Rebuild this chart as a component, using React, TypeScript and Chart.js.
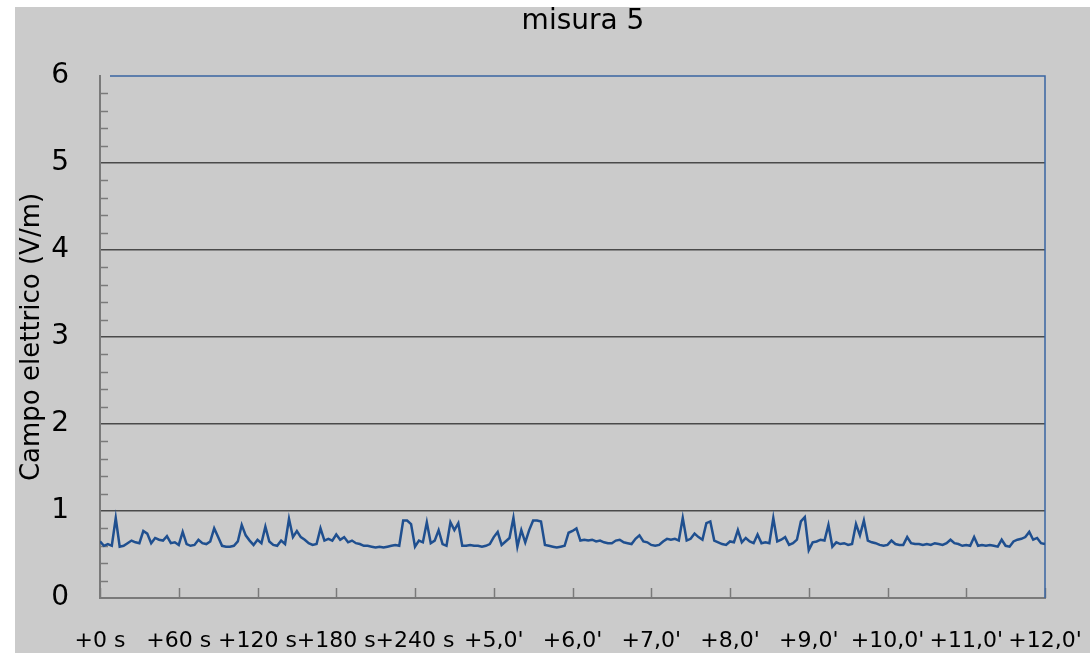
import React, { useEffect, useRef } from "react";
import { Chart, registerables } from "chart.js";

Chart.register(...registerables);

const chartTitle = "misura 5";
const yAxisTitle = "Campo elettrico (V/m)";
const xTickLabels = [
  "+0 s", "+60 s", "+120 s", "+180 s", "+240 s", "+5,0'", "+6,0'",
  "+7,0'", "+8,0'", "+9,0'", "+10,0'", "+11,0'", "+12,0'",
];
const secondsPerSample = 3;
const secondsPerLabel = 60;
const yMin = 0;
const yMax = 6;

// electric field samples (V/m), one every 3 s
const fieldValues = [
  0.65, 0.60, 0.62, 0.60, 0.92, 0.59, 0.60, 0.63, 0.66, 0.64,
  0.63, 0.77, 0.74, 0.63, 0.69, 0.67, 0.66, 0.71, 0.63, 0.64,
  0.61, 0.76, 0.62, 0.60, 0.61, 0.67, 0.63, 0.62, 0.65, 0.80,
  0.70, 0.60, 0.59, 0.59, 0.60, 0.65, 0.84, 0.72, 0.66, 0.61,
  0.67, 0.63, 0.82, 0.65, 0.61, 0.60, 0.66, 0.62, 0.91, 0.70,
  0.77, 0.70, 0.67, 0.63, 0.61, 0.62, 0.80, 0.66, 0.68, 0.66,
  0.73, 0.67, 0.70, 0.64, 0.66, 0.63, 0.62, 0.60, 0.60, 0.59,
  0.58, 0.59, 0.58, 0.59, 0.60, 0.61, 0.60, 0.89, 0.89, 0.85,
  0.59, 0.66, 0.64, 0.87, 0.63, 0.66, 0.78, 0.62, 0.60, 0.87,
  0.78, 0.86, 0.60, 0.60, 0.61, 0.60, 0.60, 0.59, 0.60, 0.62,
  0.70, 0.76, 0.61, 0.65, 0.69, 0.92, 0.59, 0.78, 0.64, 0.78,
  0.89, 0.89, 0.88, 0.61, 0.60, 0.59, 0.58, 0.59, 0.60, 0.75,
  0.77, 0.80, 0.66, 0.67, 0.66, 0.67, 0.65, 0.66, 0.64, 0.63,
  0.63, 0.66, 0.67, 0.64, 0.63, 0.62, 0.68, 0.72, 0.65, 0.64,
  0.61, 0.60, 0.61, 0.65, 0.68, 0.67, 0.68, 0.66, 0.92, 0.66,
  0.68, 0.74, 0.70, 0.67, 0.86, 0.88, 0.66, 0.64, 0.62, 0.61,
  0.65, 0.64, 0.78, 0.64, 0.69, 0.65, 0.63, 0.73, 0.63, 0.64,
  0.63, 0.92, 0.65, 0.67, 0.70, 0.61, 0.63, 0.67, 0.88, 0.93,
  0.55, 0.64, 0.65, 0.67, 0.66, 0.84, 0.59, 0.64, 0.62, 0.63,
  0.61, 0.62, 0.85, 0.72, 0.89, 0.66, 0.64, 0.63, 0.61, 0.60,
  0.61, 0.66, 0.62, 0.61, 0.61, 0.70, 0.63, 0.62, 0.62, 0.61,
  0.62, 0.61, 0.63, 0.62, 0.61, 0.63, 0.67, 0.63, 0.62, 0.60,
  0.61, 0.60, 0.70, 0.60, 0.61, 0.60, 0.61, 0.60, 0.59, 0.67,
  0.60, 0.59, 0.65, 0.67, 0.68, 0.70, 0.76, 0.67, 0.69, 0.63, 0.62,
];

const FONT = "'DejaVu Sans', Verdana, sans-serif";
const BG = "#cbcbcb";
const LINE = "#1f4f8f";
const BORDER_BLUE = "#3a66a3";
const AXIS_GRAY = "#7a7a7a";
const GRID_DARK = "#4a4a4a";

const decorPlugin = {
  id: "decor",
  beforeDatasetsDraw(chart: any) {
    const { ctx, chartArea: a, scales } = chart;
    const xs = scales.x;
    const ys = scales.y;
    ctx.save();
    ctx.strokeStyle = AXIS_GRAY;
    ctx.lineWidth = 1.5;
    for (let k = 1; k < yMax * 5; k++) {
      if (k % 5 === 0) continue;
      const py = Math.round(ys.getPixelForValue(k / 5)) + 0.5;
      ctx.beginPath();
      ctx.moveTo(a.left, py);
      ctx.lineTo(a.left + 8, py);
      ctx.stroke();
    }
    for (let j = 0; j < xTickLabels.length; j++) {
      const px = Math.round(xs.getPixelForValue(j * secondsPerLabel)) + 0.5;
      ctx.beginPath();
      ctx.moveTo(px, a.bottom);
      ctx.lineTo(px, a.bottom - 10);
      ctx.stroke();
    }
    ctx.strokeStyle = BORDER_BLUE;
    ctx.lineWidth = 1.5;
    ctx.beginPath();
    ctx.moveTo(a.left + 10, a.top);
    ctx.lineTo(a.right, a.top);
    ctx.lineTo(a.right, a.bottom);
    ctx.stroke();
    ctx.restore();
  },
  afterDraw(chart: any) {
    const { ctx } = chart;
    ctx.save();
    ctx.fillStyle = "#000";
    ctx.font = `28px ${FONT}`;
    ctx.textAlign = "center";
    ctx.textBaseline = "middle";
    ctx.fillText(chartTitle, 568, 15);
    ctx.restore();
  },
};

export default function App() {
  const canvasRef = useRef<HTMLCanvasElement | null>(null);

  useEffect(() => {
    if (!canvasRef.current) return;
    const chart = new Chart(canvasRef.current, {
      type: "line",
      data: {
        datasets: [
          {
            label: chartTitle,
            data: fieldValues.map((v, i) => ({ x: i * secondsPerSample, y: v })),
            borderColor: LINE,
            borderWidth: 2.5,
            pointRadius: 0,
            tension: 0,
            fill: false,
          },
        ],
      },
      options: {
        responsive: false,
        animation: false,
        layout: { padding: { left: 0, right: 45, top: 69, bottom: 0 } },
        plugins: {
          legend: { display: false },
          tooltip: { enabled: false },
          title: { display: false },
        },
        scales: {
          x: {
            type: "linear",
            min: 0,
            max: (xTickLabels.length - 1) * secondsPerLabel,
            grid: { display: true, drawOnChartArea: false, drawTicks: false },
            border: { display: true, color: AXIS_GRAY, width: 2 },
            ticks: {
              stepSize: secondsPerLabel,
              autoSkip: false,
              maxRotation: 0,
              minRotation: 0,
              padding: 30,
              color: "#000",
              font: { family: FONT, size: 22 },
              callback: (v: any) => xTickLabels[Math.round(Number(v) / secondsPerLabel)],
            },
            afterFit: (s: any) => {
              s.height = 55;
              s.paddingRight = 0;
              s.paddingLeft = 0;
            },
          },
          y: {
            min: yMin,
            max: yMax,
            grid: {
              drawTicks: false,
              color: (c: any) =>
                c.tick && (c.tick.value === yMin || c.tick.value === yMax)
                  ? "rgba(0,0,0,0)"
                  : GRID_DARK,
              lineWidth: 1.5,
            },
            border: { display: true, color: AXIS_GRAY, width: 2 },
            ticks: {
              stepSize: 1,
              padding: 31,
              color: "#000",
              font: { family: FONT, size: 28 },
            },
            title: {
              display: true,
              text: yAxisTitle,
              color: "#000",
              font: { family: FONT, size: 26, lineHeight: 1.2 },
              padding: { top: 2, bottom: 0 },
            },
            afterFit: (s: any) => {
              s.width = 85;
              s.paddingTop = 0;
              s.paddingBottom = 0;
            },
          },
        },
      },
      plugins: [decorPlugin],
    });
    return () => chart.destroy();
  }, []);

  return (
    <div
      style={{
        position: "fixed",
        left: 15,
        top: 7,
        width: 1075,
        height: 646,
        background: BG,
      }}
    >
      <canvas ref={canvasRef} width={1075} height={646} />
    </div>
  );
}
